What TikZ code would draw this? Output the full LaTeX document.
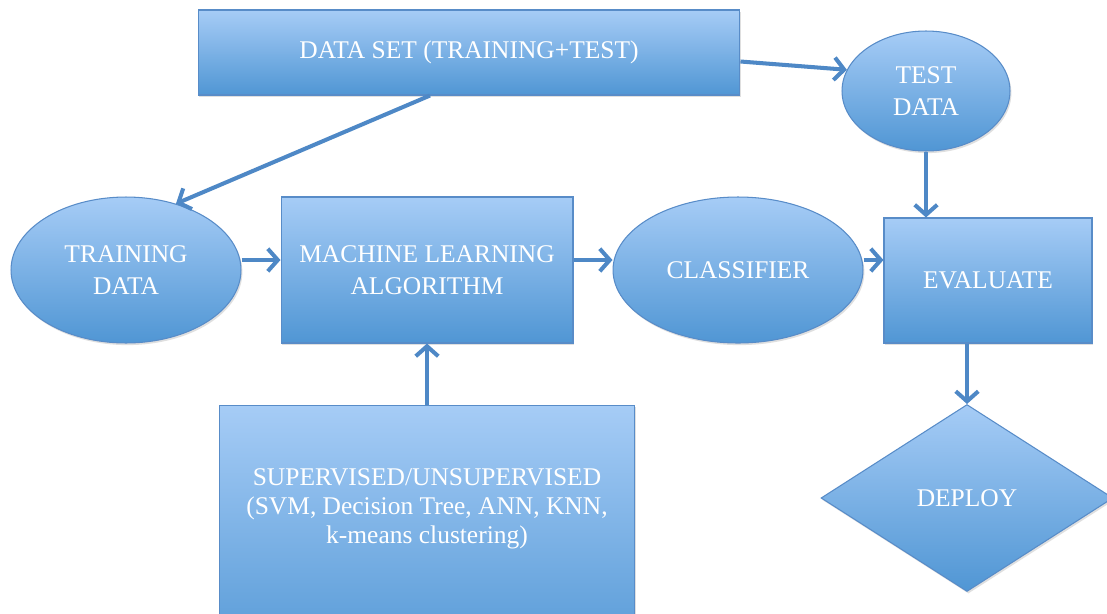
\documentclass[tikz,border=0pt]{standalone}
\usepackage{fontspec}
\setmainfont{Liberation Serif}
\usetikzlibrary{arrows.meta,shapes.geometric,shadows,calc}
\definecolor{boxtop}{RGB}{166,204,246}
\definecolor{boxbot}{RGB}{80,150,212}
\definecolor{boxline}{RGB}{88,140,200}
\definecolor{arrowc}{RGB}{78,136,198}
\tikzset{
  fillbox/.style={top color=boxtop, bottom color=boxbot, draw=boxline, line width=0.6pt,
    text=white, font=\fontsize{14.5}{18}\selectfont, align=center, inner sep=0pt,
    drop shadow={opacity=0.25, shadow xshift=0.8pt, shadow yshift=-1.2pt}},
  rectbox/.style={fillbox, rectangle},
  ellbox/.style={fillbox, ellipse},
  diabox/.style={fillbox, diamond},
  arr/.style={draw=arrowc, line width=2.3pt, -{Straight Barb[length=0.2cm, width=0.45cm, line width=2.3pt]}}
}
\begin{document}
\begin{tikzpicture}[x=0.02cm, y=-0.02cm]
\useasboundingbox (0,0) rectangle (1107,613);
\fill[white] (0,0) rectangle (1107,613);
\node[rectbox, minimum width=10.84cm, minimum height=1.7cm] (ds) at (469,52.5) {DATA SET (TRAINING+TEST)};
\node[ellbox, minimum width=3.36cm, minimum height=2.4cm] (td) at (926,91) {TEST\\DATA};
\node[ellbox, minimum width=4.6cm, minimum height=2.92cm] (tr) at (126,270) {TRAINING\\DATA};
\node[rectbox, minimum width=5.84cm, minimum height=2.92cm] (ml) at (427,270) {MACHINE LEARNING\\ALGORITHM};
\node[ellbox, minimum width=5.0cm, minimum height=2.92cm] (cl) at (738,270) {CLASSIFIER};
\node[rectbox, minimum width=4.16cm, minimum height=2.5cm] (ev) at (988,280.5) {EVALUATE};
\node[diabox, aspect=1.56, minimum width=5.84cm, minimum height=3.74cm] (dp) at (967,498) {DEPLOY};
\node[rectbox, minimum width=8.32cm, minimum height=5.4cm] (sup) at (427,540) {};
\node[text=white, font=\fontsize{14.5}{16.5}\selectfont, align=center] (suptext) at (427,509) {SUPERVISED/UNSUPERVISED\\(SVM, Decision Tree, ANN, KNN,\\k-means clustering)};
\draw[arr] ([xshift=-0.78cm]ds.south) -- (tr.53);
\draw[arr] ([yshift=-0.18cm]ds.east) -- (td.165);
\draw[arr] (td.south) -- (td.south |- ev.north);
\draw[arr] ([yshift=0.2cm]tr.east) -- ([yshift=0.2cm]ml.west);
\draw[arr] ([yshift=0.2cm]ml.east) -- ([yshift=0.2cm]ml.east -| cl.west);
\draw[arr] ([yshift=0.2cm]cl.east) -- ([yshift=0.2cm]cl.east -| ev.west);
\draw[arr] (ev.south -| dp.north) -- (dp.north);
\draw[arr] (sup.north) -- (ml.south);
\end{tikzpicture}
\end{document}
